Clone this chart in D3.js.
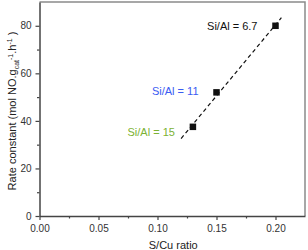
<!DOCTYPE html>
<html>
<head>
<meta charset="utf-8">
<script src="https://cdn.jsdelivr.net/npm/d3@7"></script>
<style>
  html, body { margin: 0; padding: 0; background: #fff; }
  svg { display: block; font-family: "Liberation Sans", Arial, sans-serif; }
</style>
</head>
<body>
<svg id="chart"></svg>
<script>
// data
const ratios = [0.13, 0.15, 0.20];
const rates = [37.5, 52, 80];
const siAlLabels = ["Si/Al = 15", "Si/Al = 11", "Si/Al = 6.7"];
const labelColors = ["#7cb233", "#3a5cf2", "#111111"];
const fitEnds = [0.12, 0.205];
const xTicks = [0, 0.05, 0.1, 0.15, 0.2];
const yTicks = [0, 20, 40, 60, 80];

const width = 308, height = 250;
const margin = { top: 2, right: 3, bottom: 34, left: 39.5 };

const svg = d3.select("#chart").attr("width", width).attr("height", height);

const x = d3.scaleLinear().domain([0, 0.225])
  .range([margin.left, width - margin.right]);
const y = d3.scaleLinear().domain([0, 90])
  .range([height - margin.bottom, margin.top]);

// linear fit through the points
const mx = d3.mean(ratios), my = d3.mean(rates);
const slope = d3.sum(ratios, (r, i) => (r - mx) * (rates[i] - my)) /
  d3.sum(ratios, (r) => (r - mx) ** 2);
const fit = (v) => my + slope * (v - mx);

// frame (top and right)
svg.append("path")
  .attr("d", `M${x(0)},${y(90)}H${x(0.225)}V${y(0)}`)
  .attr("fill", "none")
  .attr("stroke", "#8a8a8a")
  .attr("stroke-width", 1.5);

// axes
const xAxis = svg.append("g")
  .attr("transform", `translate(0,${y(0)})`)
  .call(d3.axisBottom(x).tickValues(xTicks).tickFormat(d3.format(".2f"))
    .tickSize(4).tickSizeOuter(0));
svg.append("g")
  .attr("transform", `translate(0,${y(0)})`)
  .call(d3.axisBottom(x).tickValues(d3.range(0.025, 0.225, 0.05))
    .tickFormat("").tickSize(2.5).tickSizeOuter(0))
  .call((g) => g.select(".domain").remove());

const yAxis = svg.append("g")
  .attr("transform", `translate(${x(0)},0)`)
  .call(d3.axisLeft(y).tickValues(yTicks).tickSize(4).tickSizeOuter(0));
svg.append("g")
  .attr("transform", `translate(${x(0)},0)`)
  .call(d3.axisLeft(y).tickValues(d3.range(10, 90, 20))
    .tickFormat("").tickSize(2.5).tickSizeOuter(0))
  .call((g) => g.select(".domain").remove());

svg.selectAll(".tick line, .domain")
  .attr("stroke", "#444").attr("stroke-width", 1.2);
svg.selectAll(".domain").attr("stroke-width", 1.5);
svg.selectAll(".tick text")
  .attr("font-family", "'Liberation Sans', Arial, sans-serif")
  .attr("font-size", 10).attr("fill", "#333");
xAxis.selectAll(".tick text").attr("dy", "0.85em");
yAxis.selectAll(".tick text").attr("dx", "-1px");

// axis titles
svg.append("text")
  .attr("x", x(0.1125) + 1)
  .attr("y", 249)
  .attr("text-anchor", "middle")
  .attr("font-size", 11)
  .attr("fill", "#222")
  .text("S/Cu ratio");

const yTitle = svg.append("text")
  .attr("transform", `translate(16,${y(45) + 2}) rotate(-90)`)
  .attr("text-anchor", "middle")
  .attr("font-size", 11)
  .attr("fill", "#222");
yTitle.append("tspan").text("Rate constant (mol NO.g");
yTitle.append("tspan").attr("font-size", 7).attr("dy", 2.5).text("cat");
yTitle.append("tspan").attr("font-size", 7).attr("dy", -6).text("-1");
yTitle.append("tspan").attr("dy", 3.5).text(".h");
yTitle.append("tspan").attr("font-size", 7).attr("dy", -4).text("-1");
yTitle.append("tspan").attr("dy", 4).text(" )");

// dashed fit line
svg.append("line")
  .attr("x1", x(fitEnds[0])).attr("y1", y(fit(fitEnds[0])))
  .attr("x2", x(fitEnds[1])).attr("y2", y(fit(fitEnds[1])))
  .attr("stroke", "#111")
  .attr("stroke-width", 1.2)
  .attr("stroke-dasharray", "4,3");

// markers
const s = 6.5;
svg.selectAll("rect.pt")
  .data(ratios)
  .join("rect")
  .attr("class", "pt")
  .attr("x", (d) => x(d) - s / 2)
  .attr("y", (d, i) => y(rates[i]) - s / 2)
  .attr("width", s)
  .attr("height", s)
  .attr("fill", "#111");

// annotations
const labelDy = [5, -1, 0];
svg.selectAll("text.lab")
  .data(siAlLabels)
  .join("text")
  .attr("class", "lab")
  .attr("x", (d, i) => x(ratios[i]) - 18)
  .attr("y", (d, i) => y(rates[i]) + labelDy[i])
  .attr("dy", "0.35em")
  .attr("text-anchor", "end")
  .attr("font-size", 11)
  .attr("fill", (d, i) => labelColors[i])
  .text((d) => d);
</script>
</body>
</html>
